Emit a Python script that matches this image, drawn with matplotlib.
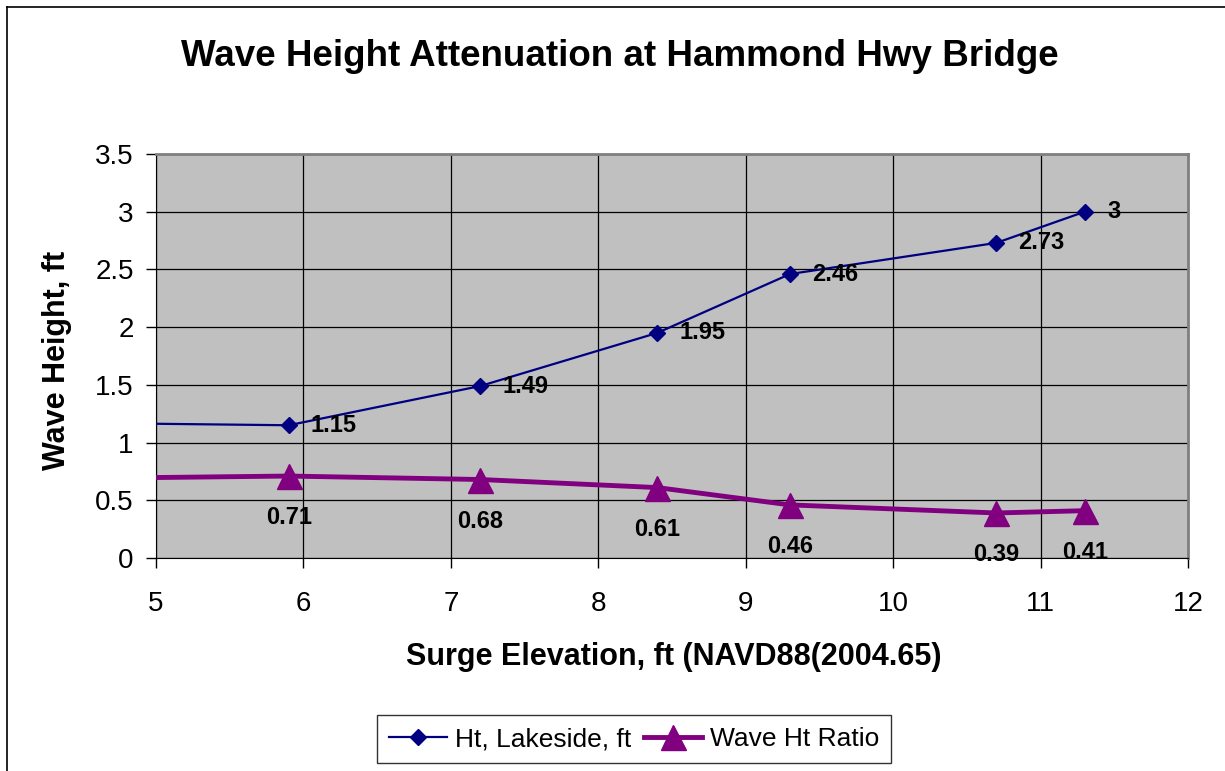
import matplotlib.pyplot as plt
from matplotlib.lines import Line2D

plt.rcParams['font.family'] = ['Liberation Sans', 'DejaVu Sans']

# data (first point lies left of the axis and is clipped, as in the original)
surge = [4.5, 5.9, 7.2, 8.4, 9.3, 10.7, 11.3]
ht_lakeside = [1.17, 1.15, 1.49, 1.95, 2.46, 2.73, 3.0]
ht_ratio = [0.69, 0.71, 0.68, 0.61, 0.46, 0.39, 0.41]
ht_labels = ['', '1.15', '1.49', '1.95', '2.46', '2.73', '3']
ratio_labels = ['', '0.71', '0.68', '0.61', '0.46', '0.39', '0.41']

W, H = 1225, 771
fig = plt.figure(figsize=(W / 100, H / 100), dpi=100)
ax = fig.add_axes([156 / W, 1 - 558 / H, (1188 - 156) / W, (558 - 154) / H])

# outer chart frame (left and top edges visible)
fig.add_artist(Line2D([7 / W, 7 / W], [0, 1 - 7 / H], color='black', lw=1.2))
fig.add_artist(Line2D([7 / W, 1], [1 - 7 / H, 1 - 7 / H], color='black', lw=1.2))

ax.set_facecolor('#C0C0C0')
ax.plot(surge, ht_lakeside, color='#000080', lw=1.6, marker='D', markersize=8,
        label='Ht, Lakeside, ft', zorder=3)
ax.plot(surge, ht_ratio, color='#800080', lw=3.5, marker='^', markersize=18,
        label='Wave Ht Ratio', zorder=3)

for x, y, t in zip(surge, ht_lakeside, ht_labels):
    if t:
        ax.annotate(t, (x, y), xytext=(16, 0), textcoords='offset points',
                    ha='left', va='center', fontsize=17, fontweight='bold')
for x, y, t in zip(surge, ht_ratio, ratio_labels):
    if t:
        ax.annotate(t, (x, y), xytext=(0, -30), textcoords='offset points',
                    ha='center', va='center', fontsize=17, fontweight='bold')

ax.set_xlim(5, 12)
ax.set_ylim(0, 3.5)
ax.set_xticks(range(5, 13))
ax.set_yticks([0, 0.5, 1, 1.5, 2, 2.5, 3, 3.5])
ax.set_yticklabels(['0', '0.5', '1', '1.5', '2', '2.5', '3', '3.5'])
ax.grid(True, color='black', lw=0.9)
ax.set_axisbelow(True)
ax.tick_params(labelsize=20, direction='out', length=7, width=1)
ax.tick_params(axis='x', pad=17)
ax.tick_params(axis='y', pad=9)
for s in ['top', 'right']:
    ax.spines[s].set_color('#808080')
    ax.spines[s].set_linewidth(2)
for s in ['left', 'bottom']:
    ax.spines[s].set_color('black')

fig.text(620 / W, 1 - 57 / H, 'Wave Height Attenuation at Hammond Hwy Bridge',
         fontsize=26.5, fontweight='bold', ha='center', va='center')
ax.set_xlabel('Surge Elevation, ft (NAVD88(2004.65)', fontsize=22, fontweight='bold',
              va='center')
ax.xaxis.set_label_coords((674 - 156) / (1188 - 156), -(657 - 558) / 404)
ax.set_ylabel('Wave Height, ft', fontsize=22, fontweight='bold', va='center', ha='center')
ax.yaxis.set_label_coords(-(156 - 57) / (1188 - 156), (558 - 360) / 404)

leg = fig.legend(loc='center', bbox_to_anchor=(634 / W, 1 - 739 / H), ncol=2,
                 fontsize=19, frameon=True, fancybox=False, edgecolor='black',
                 handlelength=2.2, handletextpad=0.3, columnspacing=0.5,
                 borderpad=0.45, borderaxespad=0)
leg.get_frame().set_linewidth(1)

fig.savefig('out.png', dpi=100)
